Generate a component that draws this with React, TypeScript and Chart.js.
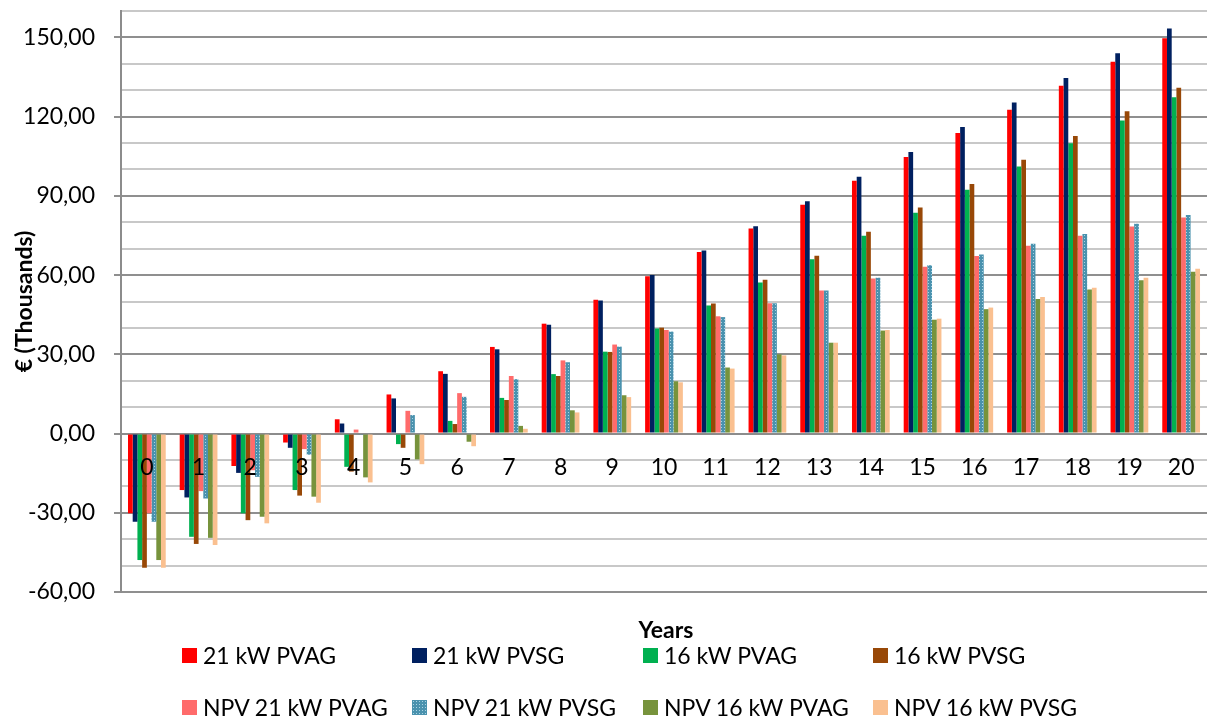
import React, { useEffect, useRef } from "react";
import { Chart, registerables } from "chart.js";

Chart.register(...registerables);

const years: string[] = ["0","1","2","3","4","5","6","7","8","9","10","11","12","13","14","15","16","17","18","19","20"];

const pvag21: number[] = [-30.2,-21.4,-12.3,-3.4,5.4,14.8,23.6,32.8,41.6,50.7,59.6,68.7,77.6,86.6,95.7,104.7,113.8,122.6,131.7,140.8,149.7];
const pvsg21: number[] = [-33.4,-24.2,-14.9,-5.4,3.8,13.3,22.6,31.9,41.2,50.4,60.0,69.3,78.5,88.0,97.2,106.6,116.1,125.4,134.6,144.0,153.4];
const pvag16: number[] = [-47.9,-39.1,-30.2,-21.4,-12.6,-4.0,4.8,13.5,22.5,31.0,39.8,48.5,57.2,66.0,74.9,83.6,92.3,101.1,109.9,118.5,127.3];
const pvsg16: number[] = [-50.8,-41.8,-32.8,-23.5,-14.4,-5.4,3.6,12.7,21.8,30.9,40.1,49.2,58.2,67.3,76.4,85.6,94.5,103.7,112.7,122.0,130.9];
const npvPvag21: number[] = [-30.2,-21.8,-13.9,-5.9,1.5,8.6,15.3,21.8,27.7,33.7,39.2,44.4,49.3,54.2,58.7,63.2,67.2,71.1,74.9,78.4,81.8];
const npvPvsg21: number[] = [-33.4,-24.6,-16.4,-8.0,-0.5,7.0,13.9,20.6,27.0,32.9,38.6,44.1,49.3,54.2,59.0,63.7,67.8,71.9,75.6,79.4,82.8];
const npvPvag16: number[] = [-47.9,-39.5,-31.5,-23.9,-16.6,-9.8,-3.1,2.9,8.8,14.5,19.8,25.0,30.0,34.4,39.0,43.1,47.1,50.9,54.5,58.0,61.3];
const npvPvsg16: number[] = [-50.8,-42.2,-34.0,-26.2,-18.5,-11.6,-4.8,1.8,8.0,13.8,19.4,24.6,29.6,34.4,39.2,43.5,47.7,51.7,55.2,59.0,62.4];

const seriesNames: string[] = [
  "21 kW PVAG", "21 kW PVSG", "16 kW PVAG", "16 kW PVSG",
  "NPV 21 kW PVAG", "NPV 21 kW PVSG", "NPV 16 kW PVAG", "NPV 16 kW PVSG",
];
const seriesValues: number[][] = [pvag21, pvsg21, pvag16, pvsg16, npvPvag21, npvPvsg21, npvPvag16, npvPvsg16];
const seriesColors: string[] = ["#FF0000", "#002060", "#00B050", "#984807", "#FF6B6B", "#4F97B3", "#77933C", "#FAC090"];

const FONT = "Lato, 'Open Sans', sans-serif";

function makePattern(): CanvasPattern | string {
  const c = document.createElement("canvas");
  c.width = 3;
  c.height = 3;
  const g = c.getContext("2d");
  if (!g) return "#4F97B3";
  g.fillStyle = "#4A92AE";
  g.fillRect(0, 0, 3, 3);
  g.fillStyle = "#A9D3E3";
  g.fillRect(1, 1, 1, 1);
  const p = g.createPattern(c, "repeat");
  return p || "#4F97B3";
}

export default function App() {
  const ref = useRef<HTMLCanvasElement | null>(null);

  useEffect(() => {
    document.body.style.margin = "0";
    const canvas = ref.current;
    if (!canvas) return;
    const pattern = makePattern();
    const datasets = seriesNames.map((name, i) => ({
      label: name,
      data: seriesValues[i],
      backgroundColor: i === 5 ? pattern : seriesColors[i],
      borderWidth: 0,
      categoryPercentage: 0.73,
      barPercentage: 1.0,
    }));
    const chart = new Chart(canvas, {
      type: "bar",
      data: { labels: years, datasets: datasets as any },
      options: {
        animation: false,
        responsive: true,
        maintainAspectRatio: false,
        layout: { autoPadding: false, padding: { top: 11, bottom: 128, left: 0, right: 0 } } as any,
        plugins: {
          legend: { display: false },
          tooltip: { enabled: false },
        },
        scales: {
          x: {
            position: { y: 0 } as any,
            grid: { display: false },
            border: { display: true, color: "#8C8C8C", width: 2 },
            afterFit: (scale: any) => {
              scale.paddingLeft = 0;
              scale.paddingRight = 0;
            },
            ticks: {
              z: 1,
              color: "#000",
              font: { family: FONT, size: 23 },
              padding: 12,
              autoSkip: false,
              maxRotation: 0,
            },
          },
          y: {
            min: -60,
            max: 160,
            afterFit: (scale: any) => {
              scale.width = 121;
              scale.paddingTop = 0;
              scale.paddingBottom = 0;
            },
            border: { display: true, color: "#8C8C8C", width: 2 },
            grid: {
              color: (ctx: any) => (ctx.tick && ctx.tick.value % 30 === 0 ? "#8F8F8F" : "#C8C8C8"),
              lineWidth: 2,
              tickLength: 7,
              tickColor: (ctx: any) => (ctx.tick && ctx.tick.value % 30 === 0 ? "#8F8F8F" : "rgba(0,0,0,0)"),
            },
            ticks: {
              stepSize: 10,
              color: "#000",
              padding: 19,
              autoSkip: false,
              font: { family: FONT, size: 23 },
              callback: (v: any) => {
                const n = Number(v);
                return n % 30 === 0 ? n.toFixed(2).replace(".", ",") : "";
              },
            },
            title: {
              display: true,
              text: "€ (Thousands)",
              color: "#000",
              font: { family: FONT, size: 23, weight: "bold" },
              padding: { top: 11, bottom: 0 },
            },
          },
        },
      },
    });
    return () => chart.destroy();
  }, []);

  const colX = [182, 412, 643, 873];
  const rowY = [655.5, 707.5];

  return (
    <div style={{ position: "relative", width: 1207, height: 720, background: "#fff", fontFamily: FONT }}>
      <canvas ref={ref} style={{ position: "absolute", left: 0, top: 0, width: 1207, height: 720 }} />
      <div
        style={{
          position: "absolute", left: 566, width: 200, top: 615.6, textAlign: "center",
          fontSize: 23, fontWeight: "bold", lineHeight: 1.2, color: "#000",
        }}
      >
        Years
      </div>
      {seriesNames.map((name, i) => {
        const col = i % 4;
        const row = Math.floor(i / 4);
        const markerStyle: React.CSSProperties =
          i === 5
            ? {
                background: "#4A92AE",
                backgroundImage: "radial-gradient(#A9D3E3 0.7px, transparent 0.8px)",
                backgroundSize: "3px 3px",
              }
            : { background: seriesColors[i] };
        return (
          <div
            key={name}
            style={{
              position: "absolute", left: colX[col], top: rowY[row] - 14, height: 28,
              display: "flex", alignItems: "center", whiteSpace: "nowrap",
            }}
          >
            <span style={{ display: "inline-block", width: 15, height: 15, marginRight: 6, ...markerStyle }} />
            <span style={{ fontSize: 23, lineHeight: 1.2, color: "#000" }}>{name}</span>
          </div>
        );
      })}
    </div>
  );
}
